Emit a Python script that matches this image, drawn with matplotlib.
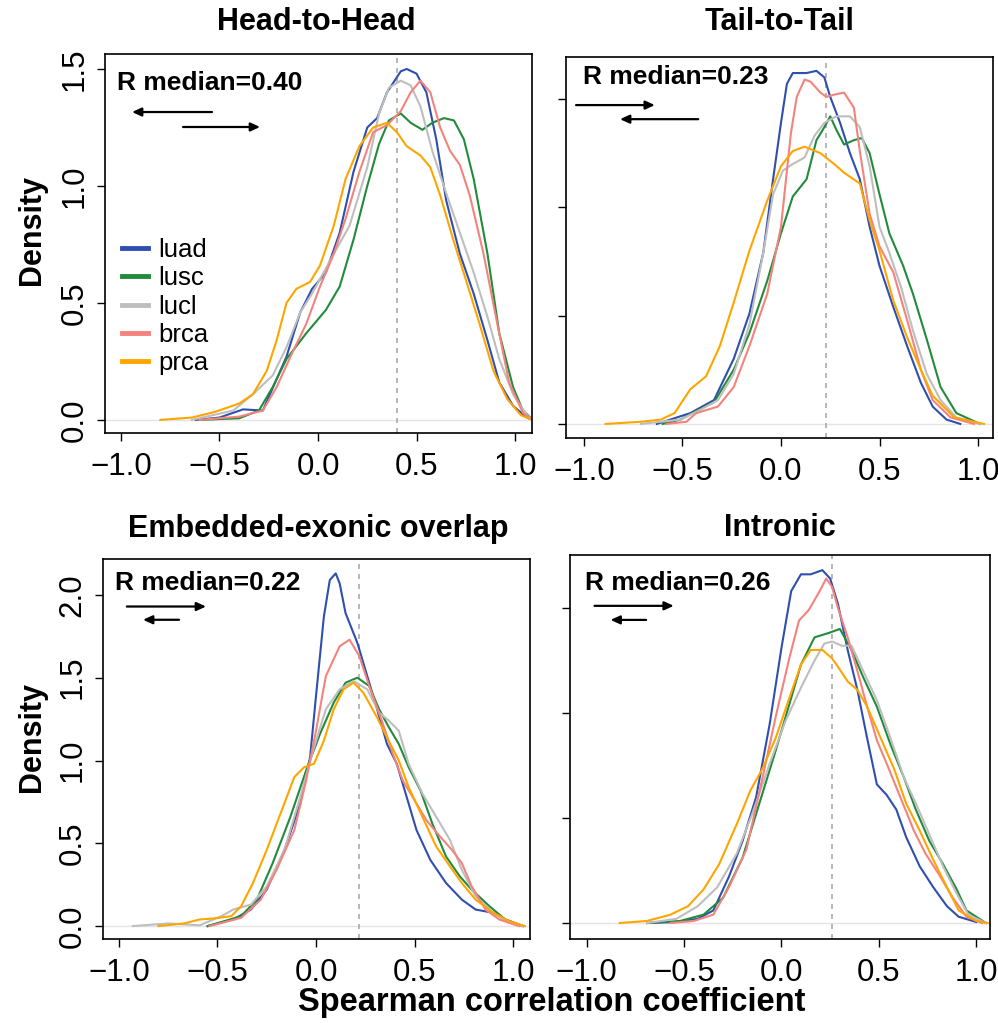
import matplotlib
matplotlib.use("Agg")
import matplotlib.pyplot as plt

plt.rcParams['font.family'] = ['Liberation Sans', 'DejaVu Sans']

series_names = ["luad", "lusc", "lucl", "brca", "prca"]
series_colors = ["#2F4FAF", "#228B3B", "#BEBEBE", "#F4837D", "#FFA500"]

panel_titles = ["Head-to-Head", "Tail-to-Tail", "Embedded-exonic overlap", "Intronic"]
panel_medians = [0.40, 0.23, 0.22, 0.26]
x_ticks = [-1.0, -0.5, 0.0, 0.5, 1.0]
x_tick_labels = ["\u22121.0", "\u22120.5", "0.0", "0.5", "1.0"]

# ---- Head-to-Head ----
h2h_luad_x = [-0.62, -0.50, -0.38, -0.28, -0.16, -0.09, -0.03, 0.04, 0.11, 0.18, 0.25, 0.30, 0.35, 0.42, 0.45, 0.50, 0.55, 0.60, 0.65, 0.72, 0.79, 0.86, 0.92, 0.99, 1.06, 1.09]
h2h_luad_y = [0.00, 0.01, 0.045, 0.04, 0.27, 0.46, 0.56, 0.63, 0.80, 1.06, 1.25, 1.29, 1.40, 1.49, 1.50, 1.48, 1.40, 1.20, 0.94, 0.71, 0.54, 0.34, 0.16, 0.06, 0.01, 0.00]
h2h_lusc_x = [-0.60, -0.40, -0.30, -0.23, -0.16, -0.06, 0.04, 0.11, 0.18, 0.25, 0.31, 0.36, 0.42, 0.47, 0.53, 0.58, 0.64, 0.69, 0.74, 0.79, 0.86, 0.92, 0.99, 1.04, 1.09]
h2h_lusc_y = [0.00, 0.007, 0.04, 0.14, 0.26, 0.37, 0.47, 0.57, 0.77, 1.00, 1.18, 1.28, 1.31, 1.27, 1.24, 1.27, 1.29, 1.28, 1.20, 1.03, 0.71, 0.37, 0.14, 0.04, 0.00]
h2h_lucl_x = [-0.64, -0.43, -0.33, -0.23, -0.16, -0.09, -0.03, 0.08, 0.16, 0.25, 0.31, 0.36, 0.42, 0.47, 0.52, 0.58, 0.65, 0.72, 0.79, 0.86, 0.92, 0.99, 1.06, 1.09]
h2h_lucl_y = [0.00, 0.04, 0.11, 0.19, 0.31, 0.46, 0.54, 0.71, 0.83, 1.08, 1.31, 1.42, 1.45, 1.43, 1.34, 1.15, 0.97, 0.80, 0.63, 0.44, 0.26, 0.11, 0.02, 0.00]
h2h_brca_x = [-0.60, -0.40, -0.28, -0.21, -0.14, -0.06, 0.01, 0.08, 0.14, 0.21, 0.28, 0.35, 0.42, 0.47, 0.52, 0.57, 0.62, 0.67, 0.72, 0.77, 0.84, 0.91, 0.97, 1.04, 1.09]
h2h_brca_y = [0.00, 0.014, 0.04, 0.14, 0.27, 0.41, 0.57, 0.71, 0.86, 1.06, 1.23, 1.26, 1.32, 1.40, 1.45, 1.40, 1.25, 1.15, 1.09, 0.96, 0.71, 0.41, 0.16, 0.03, 0.00]
h2h_prca_x = [-0.80, -0.64, -0.52, -0.40, -0.33, -0.26, -0.21, -0.16, -0.11, -0.04, 0.01, 0.08, 0.14, 0.21, 0.28, 0.35, 0.40, 0.45, 0.52, 0.57, 0.62, 0.69, 0.75, 0.82, 0.89, 0.96, 1.03, 1.09]
h2h_prca_y = [0.00, 0.01, 0.035, 0.07, 0.11, 0.21, 0.34, 0.50, 0.56, 0.59, 0.66, 0.83, 1.03, 1.17, 1.25, 1.27, 1.23, 1.17, 1.13, 1.08, 0.96, 0.76, 0.60, 0.41, 0.21, 0.09, 0.02, 0.00]

# ---- Tail-to-Tail ----
t2t_luad_x = [-0.63, -0.46, -0.34, -0.24, -0.16, -0.09, -0.04, 0.00, 0.03, 0.06, 0.13, 0.18, 0.22, 0.25, 0.30, 0.35, 0.40, 0.45, 0.50, 0.57, 0.64, 0.71, 0.77, 0.84, 0.91]
t2t_luad_y = [0.00, 0.05, 0.11, 0.30, 0.51, 0.79, 1.13, 1.39, 1.57, 1.62, 1.62, 1.63, 1.60, 1.51, 1.39, 1.25, 1.13, 0.91, 0.73, 0.54, 0.36, 0.19, 0.08, 0.02, 0.00]
t2t_lusc_x = [-0.60, -0.51, -0.43, -0.34, -0.24, -0.16, -0.07, 0.00, 0.06, 0.13, 0.18, 0.22, 0.25, 0.28, 0.32, 0.37, 0.41, 0.45, 0.50, 0.55, 0.62, 0.67, 0.74, 0.81, 0.89, 1.01]
t2t_lusc_y = [0.00, 0.02, 0.06, 0.10, 0.25, 0.42, 0.66, 0.88, 1.05, 1.13, 1.31, 1.37, 1.42, 1.36, 1.29, 1.31, 1.32, 1.25, 1.06, 0.88, 0.73, 0.60, 0.39, 0.17, 0.05, 0.00]
t2t_lucl_x = [-0.71, -0.51, -0.41, -0.32, -0.24, -0.16, -0.09, -0.04, 0.01, 0.06, 0.12, 0.17, 0.22, 0.28, 0.35, 0.40, 0.45, 0.50, 0.55, 0.61, 0.67, 0.74, 0.81, 0.89, 1.01]
t2t_lucl_y = [0.00, 0.02, 0.065, 0.11, 0.23, 0.46, 0.79, 1.06, 1.17, 1.20, 1.23, 1.33, 1.39, 1.42, 1.42, 1.37, 1.19, 0.91, 0.79, 0.63, 0.43, 0.23, 0.11, 0.03, 0.00]
t2t_brca_x = [-0.58, -0.48, -0.43, -0.32, -0.24, -0.16, -0.07, 0.00, 0.05, 0.08, 0.12, 0.15, 0.20, 0.23, 0.27, 0.32, 0.37, 0.40, 0.45, 0.50, 0.57, 0.64, 0.71, 0.77, 0.86, 0.98]
t2t_brca_y = [0.00, 0.01, 0.05, 0.08, 0.17, 0.36, 0.60, 0.91, 1.34, 1.51, 1.59, 1.58, 1.53, 1.51, 1.52, 1.53, 1.46, 1.26, 0.97, 0.82, 0.70, 0.48, 0.25, 0.11, 0.03, 0.00]
t2t_prca_x = [-0.89, -0.71, -0.61, -0.54, -0.46, -0.38, -0.31, -0.24, -0.16, -0.07, 0.00, 0.06, 0.12, 0.20, 0.27, 0.32, 0.40, 0.45, 0.50, 0.57, 0.64, 0.71, 0.77, 0.88, 1.03]
t2t_prca_y = [0.00, 0.01, 0.02, 0.05, 0.16, 0.22, 0.36, 0.56, 0.80, 1.03, 1.19, 1.26, 1.28, 1.25, 1.20, 1.16, 1.11, 0.94, 0.80, 0.57, 0.40, 0.25, 0.13, 0.03, 0.00]

# ---- Embedded-exonic overlap ----
emb_luad_x = [-0.55, -0.42, -0.33, -0.25, -0.16, -0.08, -0.03, 0.00, 0.04, 0.07, 0.10, 0.12, 0.15, 0.21, 0.26, 0.31, 0.36, 0.41, 0.46, 0.51, 0.58, 0.66, 0.74, 0.81, 0.90, 0.96, 1.05]
emb_luad_y = [0.00, 0.04, 0.10, 0.22, 0.46, 0.74, 1.02, 1.39, 1.87, 2.09, 2.13, 2.07, 1.89, 1.71, 1.51, 1.31, 1.10, 0.98, 0.78, 0.58, 0.40, 0.26, 0.16, 0.10, 0.08, 0.04, 0.00]
emb_lusc_x = [-0.55, -0.38, -0.30, -0.22, -0.13, -0.05, 0.02, 0.09, 0.15, 0.21, 0.27, 0.32, 0.37, 0.42, 0.47, 0.53, 0.59, 0.66, 0.73, 0.79, 0.88, 0.96, 1.05]
emb_lusc_y = [0.00, 0.06, 0.16, 0.38, 0.66, 0.94, 1.16, 1.35, 1.47, 1.50, 1.45, 1.31, 1.20, 1.10, 0.96, 0.82, 0.62, 0.42, 0.30, 0.22, 0.12, 0.04, 0.00]
emb_lucl_x = [-0.93, -0.75, -0.59, -0.48, -0.42, -0.33, -0.25, -0.16, -0.08, -0.01, 0.05, 0.12, 0.19, 0.26, 0.32, 0.37, 0.42, 0.47, 0.54, 0.61, 0.68, 0.74, 0.81, 0.90, 0.98, 1.05]
emb_lucl_y = [0.00, 0.016, 0.005, 0.06, 0.10, 0.13, 0.24, 0.46, 0.78, 1.08, 1.31, 1.43, 1.48, 1.43, 1.29, 1.24, 1.18, 0.98, 0.80, 0.66, 0.52, 0.34, 0.18, 0.08, 0.02, 0.00]
emb_brca_x = [-0.54, -0.38, -0.28, -0.20, -0.11, -0.05, 0.00, 0.05, 0.12, 0.17, 0.22, 0.27, 0.34, 0.39, 0.44, 0.49, 0.56, 0.63, 0.69, 0.74, 0.79, 0.86, 0.93, 1.03]
emb_brca_y = [0.00, 0.05, 0.16, 0.34, 0.58, 0.88, 1.18, 1.51, 1.69, 1.73, 1.63, 1.45, 1.22, 1.04, 0.88, 0.78, 0.64, 0.54, 0.46, 0.38, 0.24, 0.10, 0.04, 0.00]
emb_prca_x = [-0.80, -0.67, -0.59, -0.52, -0.43, -0.38, -0.32, -0.25, -0.18, -0.11, -0.06, -0.01, 0.04, 0.09, 0.14, 0.19, 0.24, 0.31, 0.36, 0.42, 0.47, 0.54, 0.61, 0.68, 0.74, 0.81, 0.90, 0.98, 1.06]
emb_prca_y = [0.00, 0.016, 0.04, 0.046, 0.06, 0.12, 0.26, 0.46, 0.68, 0.90, 0.96, 0.98, 1.12, 1.31, 1.43, 1.47, 1.41, 1.26, 1.14, 1.00, 0.84, 0.66, 0.48, 0.36, 0.26, 0.16, 0.08, 0.03, 0.00]

# ---- Intronic ----
intr_luad_x = [-0.69, -0.54, -0.43, -0.35, -0.27, -0.20, -0.13, -0.06, 0.00, 0.05, 0.10, 0.15, 0.21, 0.25, 0.29, 0.34, 0.39, 0.44, 0.49, 0.54, 0.59, 0.64, 0.71, 0.78, 0.85, 0.91, 1.00]
intr_luad_y = [0.00, 0.005, 0.02, 0.06, 0.22, 0.39, 0.60, 0.95, 1.31, 1.58, 1.66, 1.66, 1.68, 1.64, 1.52, 1.30, 1.11, 0.88, 0.66, 0.61, 0.54, 0.41, 0.27, 0.17, 0.08, 0.03, 0.005]
intr_lusc_x = [-0.69, -0.52, -0.40, -0.30, -0.20, -0.10, -0.03, 0.04, 0.10, 0.17, 0.24, 0.30, 0.36, 0.42, 0.49, 0.56, 0.63, 0.69, 0.76, 0.83, 0.90, 0.95, 1.05]
intr_lusc_y = [0.00, 0.01, 0.04, 0.12, 0.31, 0.61, 0.82, 1.04, 1.23, 1.36, 1.38, 1.40, 1.30, 1.17, 1.03, 0.85, 0.69, 0.54, 0.39, 0.28, 0.16, 0.06, 0.00]
intr_lucl_x = [-0.69, -0.54, -0.43, -0.33, -0.23, -0.15, -0.06, 0.02, 0.10, 0.17, 0.22, 0.26, 0.31, 0.36, 0.42, 0.49, 0.56, 0.63, 0.69, 0.76, 0.83, 0.90, 0.96, 1.05]
intr_lucl_y = [0.00, 0.02, 0.08, 0.17, 0.33, 0.52, 0.76, 0.96, 1.12, 1.25, 1.33, 1.34, 1.32, 1.32, 1.20, 1.06, 0.88, 0.69, 0.57, 0.42, 0.27, 0.14, 0.04, 0.00]
intr_brca_x = [-0.57, -0.45, -0.35, -0.27, -0.18, -0.10, -0.03, 0.04, 0.09, 0.14, 0.19, 0.23, 0.26, 0.29, 0.34, 0.39, 0.44, 0.49, 0.54, 0.61, 0.68, 0.74, 0.81, 0.88, 0.95, 1.03]
intr_brca_y = [0.00, 0.01, 0.04, 0.17, 0.35, 0.68, 0.98, 1.26, 1.44, 1.49, 1.57, 1.64, 1.60, 1.50, 1.36, 1.20, 1.03, 0.87, 0.76, 0.60, 0.44, 0.33, 0.23, 0.12, 0.03, 0.00]
intr_prca_x = [-0.83, -0.69, -0.57, -0.48, -0.40, -0.32, -0.23, -0.16, -0.10, -0.03, 0.04, 0.10, 0.15, 0.21, 0.26, 0.29, 0.34, 0.39, 0.44, 0.51, 0.58, 0.64, 0.71, 0.78, 0.85, 0.91, 1.00, 1.06]
intr_prca_y = [0.00, 0.01, 0.04, 0.08, 0.16, 0.28, 0.47, 0.63, 0.73, 0.88, 1.07, 1.23, 1.30, 1.30, 1.26, 1.22, 1.15, 1.11, 1.03, 0.88, 0.73, 0.57, 0.44, 0.30, 0.17, 0.06, 0.01, 0.00]

panel_series = [
    [(h2h_luad_x, h2h_luad_y), (h2h_lusc_x, h2h_lusc_y), (h2h_lucl_x, h2h_lucl_y), (h2h_brca_x, h2h_brca_y), (h2h_prca_x, h2h_prca_y)],
    [(t2t_luad_x, t2t_luad_y), (t2t_lusc_x, t2t_lusc_y), (t2t_lucl_x, t2t_lucl_y), (t2t_brca_x, t2t_brca_y), (t2t_prca_x, t2t_prca_y)],
    [(emb_luad_x, emb_luad_y), (emb_lusc_x, emb_lusc_y), (emb_lucl_x, emb_lucl_y), (emb_brca_x, emb_brca_y), (emb_prca_x, emb_prca_y)],
    [(intr_luad_x, intr_luad_y), (intr_lusc_x, intr_lusc_y), (intr_lucl_x, intr_lucl_y), (intr_brca_x, intr_brca_y), (intr_prca_x, intr_prca_y)],
]

W, H = 998, 1023
fig = plt.figure(figsize=(W / 100, H / 100), dpi=100)

# layout (pixels): left, top, right, bottom
boxes = [(105, 54, 532, 433), (566, 57, 993, 438), (103, 559, 530, 939), (570, 555, 990, 939)]
xlims = [(-1.081, 1.086), (-1.091, 1.076), (-1.081, 1.086), (-1.086, 1.071)]
ylims = [(-0.056, 1.564), (-0.065, 1.694), (-0.078, 2.217), (-0.076, 1.752)]
yticks = [[0, 0.5, 1.0, 1.5], [0, 0.5, 1.0, 1.5], [0, 0.5, 1.0, 1.5, 2.0], [0, 0.5, 1.0, 1.5]]
show_ylabels = [True, False, True, False]
title_pos = [(316, 30), (780, 30), (318, 537), (780, 536)]
text_pos = [(-1.02, 1.44), (-1.005, 1.60), (-1.02, 2.07), (-1.01, 1.62)]
arrows = [
    [((-0.538, 1.316), (-0.944, 1.316)), ((-0.685, 1.252), (-0.294, 1.252))],
    [((-1.04, 1.472), (-0.64, 1.472)), ((-0.42, 1.407), (-0.817, 1.407))],
    [((-0.96, 1.93), (-0.558, 1.93)), ((-0.695, 1.85), (-0.878, 1.85))],
    [((-0.96, 1.51), (-0.553, 1.51)), ((-0.695, 1.443), (-0.878, 1.443))],
]

axes = []
for i in range(4):
    l, t, r, b = boxes[i]
    ax = fig.add_axes([l / W, 1 - b / H, (r - l) / W, (b - t) / H])
    axes.append(ax)
    ax.axhline(0, color="#E4E4E4", lw=1.0, zorder=0)
    for (xs, ys), c, n in zip(panel_series[i], series_colors, series_names):
        ax.plot(xs, ys, color=c, lw=1.5, label=n, solid_joinstyle="round")
    ax.axvline(panel_medians[i], color="#AAAAAA", lw=1.2, ls=(0, (3, 3)), zorder=1)
    ax.set_xlim(*xlims[i])
    ax.set_ylim(*ylims[i])
    ax.set_xticks(x_ticks)
    ax.set_xticklabels(x_tick_labels, fontsize=22.5)
    ax.set_yticks(yticks[i])
    if show_ylabels[i]:
        ax.set_yticklabels([f"{v:.1f}" for v in yticks[i]], fontsize=22.5, rotation=90, va="center")
    else:
        ax.set_yticklabels([])
    ax.tick_params(direction="out", length=6, width=1.0, color="black")
    ax.tick_params(axis="x", pad=8)
    ax.tick_params(axis="y", pad=5)
    for s in ax.spines.values():
        s.set_linewidth(1.2)
    ax.text(text_pos[i][0], text_pos[i][1], f"R median={panel_medians[i]:.2f}",
            fontsize=19, fontweight="bold", ha="left", va="center")
    for (start, end) in arrows[i]:
        ax.annotate("", xy=end, xytext=start,
                    arrowprops=dict(arrowstyle="-|>,head_length=0.55,head_width=0.25",
                                    color="black", lw=1.6, shrinkA=0, shrinkB=0))
    tx, ty = title_pos[i]
    fig.text(tx / W, 1 - ty / H, panel_titles[i], fontsize=22, fontweight="bold",
             ha="center", va="baseline")

leg = axes[0].legend(loc="upper left", bbox_to_anchor=(0.04, 0.515), frameon=False,
                     fontsize=18.5, handlelength=1.0, handletextpad=0.4,
                     labelspacing=0.17, borderpad=0, borderaxespad=0)
for h in leg.get_lines():
    h.set_linewidth(3.5)

fig.text(32 / W, 1 - 230 / H, "Density", rotation=90, fontsize=22, fontweight="bold",
         ha="center", va="center")
fig.text(32 / W, 1 - 737 / H, "Density", rotation=90, fontsize=22, fontweight="bold",
         ha="center", va="center")
fig.text(552 / W, 1 - 1011 / H, "Spearman correlation coefficient", fontsize=23.5,
         fontweight="bold", ha="center", va="baseline")

fig.savefig("out.png", dpi=100)
